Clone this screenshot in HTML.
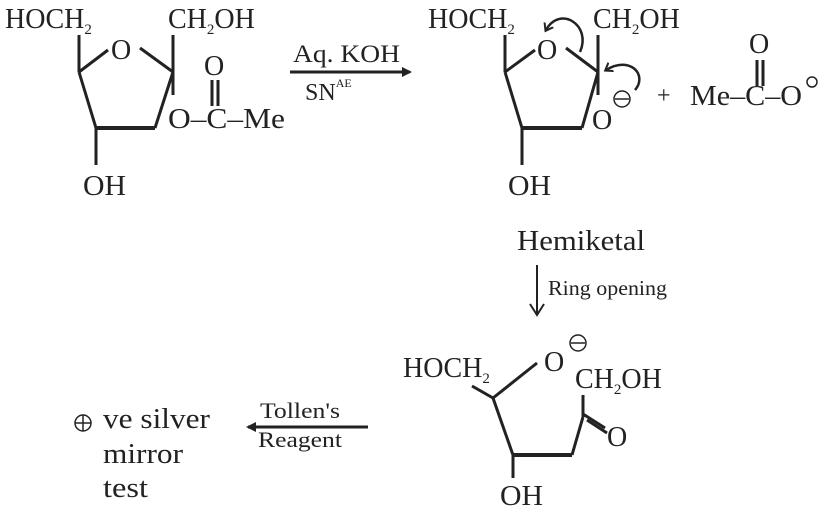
<!DOCTYPE html>
<html><head><style>
body{margin:0;background:#fff}
svg{display:block}
text{font-family:"Liberation Serif",serif;fill:#222}
</style></head><body>
<svg width="825" height="515" viewBox="0 0 825 515" xmlns="http://www.w3.org/2000/svg">
<defs><marker id="ah" markerWidth="10" markerHeight="10" refX="8" refY="5" orient="auto" markerUnits="userSpaceOnUse"><path d="M0,0 L10,5 L0,10 z" fill="#222"/></marker>
<marker id="ca" markerWidth="12" markerHeight="12" refX="6" refY="6" orient="auto" markerUnits="userSpaceOnUse"><path d="M0,1 L7,6 L0,11" fill="none" stroke="#222" stroke-width="2"/></marker></defs>
<g stroke="#222" stroke-width="3" fill="none">
<line x1="79" y1="35" x2="79" y2="72"/>
<line x1="79" y1="72" x2="108" y2="50"/>
<line x1="140" y1="48" x2="173" y2="72"/>
<line x1="173" y1="35" x2="173" y2="95"/>
<line x1="173" y1="72" x2="155" y2="128"/>
<line x1="96" y1="128" x2="155" y2="128" stroke-width="4"/>
<line x1="79" y1="72" x2="96" y2="128"/>
<line x1="96" y1="128" x2="96" y2="165"/>
<line x1="212" y1="80" x2="212" y2="106"/>
<line x1="218" y1="80" x2="218" y2="106"/>
<line x1="290" y1="72" x2="410" y2="72" marker-end="url(#ah)"/>
<line x1="505" y1="35" x2="505" y2="72"/>
<line x1="505" y1="72" x2="535" y2="50"/>
<line x1="566" y1="48" x2="598" y2="72"/>
<line x1="598" y1="35" x2="598" y2="95"/>
<line x1="598" y1="72" x2="582" y2="128"/>
<line x1="522" y1="128" x2="582" y2="128" stroke-width="4"/>
<line x1="505" y1="72" x2="522" y2="128"/>
<line x1="522" y1="128" x2="522" y2="165"/>
<path d="M580,52 C592,25 560,5 546,30" stroke-width="2.5" marker-end="url(#ca)"/>
<path d="M635,90 C648,75 630,55 606,70" stroke-width="2.5" marker-end="url(#ca)"/>
<line x1="757" y1="60" x2="757" y2="86"/>
<line x1="763" y1="60" x2="763" y2="86"/>
<line x1="537" y1="265" x2="537" y2="314" stroke-width="2"/>
<path d="M530,304 L537,315 L544,304" stroke-width="2"/>
<line x1="472" y1="386" x2="493" y2="398"/>
<line x1="493" y1="398" x2="537" y2="363"/>
<line x1="493" y1="398" x2="513" y2="455"/>
<line x1="513" y1="455" x2="572" y2="455" stroke-width="4"/>
<line x1="572" y1="455" x2="583" y2="417"/>
<line x1="583" y1="417" x2="583" y2="395"/>
<line x1="583" y1="414" x2="605" y2="428"/>
<line x1="587" y1="420" x2="607" y2="433"/>
<line x1="513" y1="455" x2="513" y2="478"/>
<line x1="368" y1="427" x2="248" y2="427" marker-end="url(#ah)"/>
</g>
<g stroke="#222" stroke-width="1.5" fill="none">
<circle cx="622" cy="99" r="8"/><line x1="615" y1="99" x2="629" y2="99"/>
<circle cx="812" cy="82" r="5"/>
<circle cx="578" cy="343" r="8"/><line x1="571" y1="343" x2="585" y2="343"/>
<circle cx="83" cy="423" r="8"/><line x1="75" y1="423" x2="91" y2="423"/><line x1="83" y1="415" x2="83" y2="431"/>
</g>
<g font-size="28">
<text x="5" y="28">HOCH<tspan font-size="15" dy="6">2</tspan></text>
<text x="168" y="28">CH<tspan font-size="15" dy="6">2</tspan><tspan dy="-6">OH</tspan></text>
<text x="111" y="59">O</text>
<text x="204" y="75">O</text>
<text x="168" y="128" textLength="117" lengthAdjust="spacingAndGlyphs">O–C–Me</text>
<text x="83" y="195" textLength="43" lengthAdjust="spacingAndGlyphs">OH</text>
<text x="293" y="62" font-size="25" textLength="107" lengthAdjust="spacingAndGlyphs">Aq. KOH</text>
<text x="305" y="100" font-size="24">SN<tspan font-size="12" dy="-13">AE</tspan></text>
<text x="428" y="28">HOCH<tspan font-size="15" dy="6">2</tspan></text>
<text x="593" y="28">CH<tspan font-size="15" dy="6">2</tspan><tspan dy="-6">OH</tspan></text>
<text x="537" y="59">O</text>
<text x="592" y="129">O</text>
<text x="657" y="103" font-size="24">+</text>
<text x="690" y="105" textLength="112" lengthAdjust="spacingAndGlyphs">Me–C–O</text>
<text x="749" y="53">O</text>
<text x="508" y="195" textLength="43" lengthAdjust="spacingAndGlyphs">OH</text>
<text x="517" y="250" textLength="128" lengthAdjust="spacingAndGlyphs">Hemiketal</text>
<text x="548" y="295" font-size="21" textLength="119" lengthAdjust="spacingAndGlyphs">Ring opening</text>
<text x="403" y="377">HOCH<tspan font-size="15" dy="6">2</tspan></text>
<text x="544" y="371">O</text>
<text x="575" y="388">CH<tspan font-size="15" dy="6">2</tspan><tspan dy="-6">OH</tspan></text>
<text x="607" y="446">O</text>
<text x="500" y="505" textLength="43" lengthAdjust="spacingAndGlyphs">OH</text>
<text x="260" y="418" font-size="22" textLength="80" lengthAdjust="spacingAndGlyphs">Tollen's</text>
<text x="258" y="447" font-size="22" textLength="84" lengthAdjust="spacingAndGlyphs">Reagent</text>
<text x="103" y="428" font-size="29" textLength="107" lengthAdjust="spacingAndGlyphs">ve silver</text>
<text x="103" y="463" font-size="29" textLength="80" lengthAdjust="spacingAndGlyphs">mirror</text>
<text x="103" y="497" font-size="29" textLength="45" lengthAdjust="spacingAndGlyphs">test</text>
</g>
</svg>
</body></html>
